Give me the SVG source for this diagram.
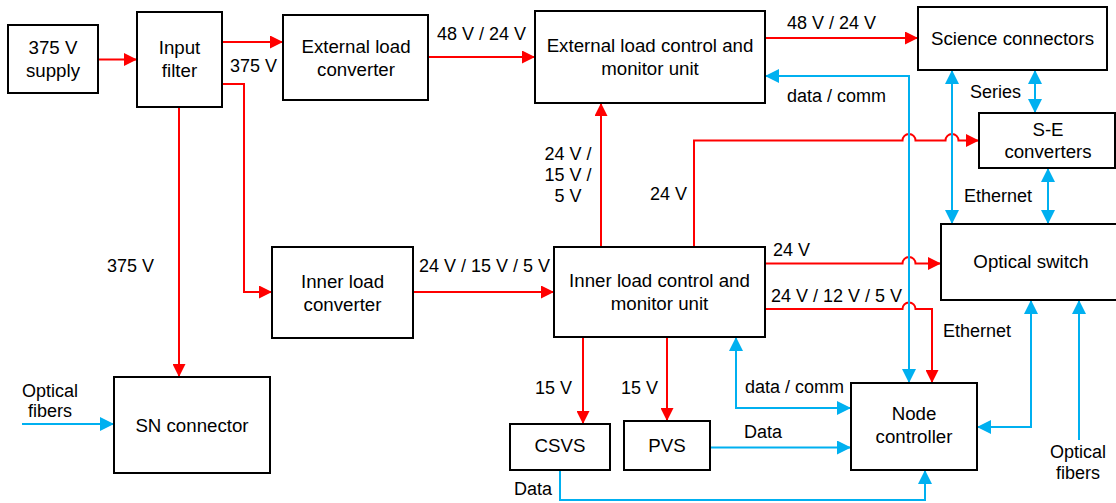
<svg xmlns="http://www.w3.org/2000/svg" width="1116" height="503" viewBox="0 0 1116 503">
<style>
.box{fill:#fff;stroke:#000;stroke-width:2}
.t{font-family:"Liberation Sans",Arial,sans-serif;font-size:18.7px;fill:#000;text-anchor:middle}
.l{font-family:"Liberation Sans",Arial,sans-serif;font-size:18px;fill:#000}
.r{fill:none;stroke:#FF0000;stroke-width:2}
.b{fill:none;stroke:#00B0F0;stroke-width:2}
</style>
<defs>
<marker id="ar" markerUnits="userSpaceOnUse" markerWidth="13" markerHeight="13" refX="13" refY="6.5" orient="auto-start-reverse"><path d="M0,0 L13,6.5 L0,13 z" fill="#FF0000"/></marker>
<marker id="ab" markerUnits="userSpaceOnUse" markerWidth="14" markerHeight="14" refX="14" refY="7" orient="auto-start-reverse"><path d="M0,0 L14,7 L0,14 z" fill="#00B0F0"/></marker>
</defs>
<rect width="1116" height="503" fill="#fff"/>
<g id="connectors">
<path class="r" d="M98,59.5 H137" marker-end="url(#ar)"/>
<path class="r" d="M222,42 H283" marker-end="url(#ar)"/>
<path class="r" d="M428,57 H535" marker-end="url(#ar)"/>
<path class="r" d="M765,38 H918" marker-end="url(#ar)"/>
<path class="r" d="M222,84 H244 V292 H272" marker-end="url(#ar)"/>
<path class="r" d="M179,107 V377" marker-end="url(#ar)"/>
<path class="r" d="M413,292 H554" marker-end="url(#ar)"/>
<path class="r" d="M601,247 V103" marker-end="url(#ar)"/>
<path class="r" d="M694,247 V140.5 H902.5 A6.5,6.5 0 0 1 915.5,140.5 H945.5 A6.5,6.5 0 0 1 958.5,140.5 H979" marker-end="url(#ar)"/>
<path class="r" d="M765,263.5 H902.5 A6.5,6.5 0 0 1 915.5,263.5 H941" marker-end="url(#ar)"/>
<path class="r" d="M765,309 H902.5 A6.5,6.5 0 0 1 915.5,309 H932 V383" marker-end="url(#ar)"/>
<path class="r" d="M583,337 V424" marker-end="url(#ar)"/>
<path class="r" d="M667,337 V421" marker-end="url(#ar)"/>
<path class="b" d="M22,424 H114" marker-end="url(#ab)"/>
<path class="b" d="M765,76 H909 V383" marker-start="url(#ab)" marker-end="url(#ab)"/>
<path class="b" d="M952,70 V224" marker-start="url(#ab)" marker-end="url(#ab)"/>
<path class="b" d="M1035,70 V113" marker-start="url(#ab)" marker-end="url(#ab)"/>
<path class="b" d="M1048,168 V224" marker-start="url(#ab)" marker-end="url(#ab)"/>
<path class="b" d="M736,337 V408 H851" marker-start="url(#ab)" marker-end="url(#ab)"/>
<path class="b" d="M710,447.5 H851" marker-end="url(#ab)"/>
<path class="b" d="M560,470 V500 H925 V470" marker-end="url(#ab)"/>
<path class="b" d="M977,427 H1031 V300" marker-start="url(#ab)" marker-end="url(#ab)"/>
<path class="b" d="M1079,440 V300" marker-end="url(#ab)"/>
</g>
<g id="labels">
<text class="l" x="230" y="72">375 V</text>
<text class="l" x="437" y="40">48 V / 24 V</text>
<text class="l" x="787" y="28.5">48 V / 24 V</text>
<text class="l" x="787" y="102">data / comm</text>
<text class="l" x="970" y="98">Series</text>
<text class="l" x="568" y="160" text-anchor="middle">24 V /</text>
<text class="l" x="568" y="181" text-anchor="middle">15 V /</text>
<text class="l" x="568" y="202" text-anchor="middle">5 V</text>
<text class="l" x="650" y="199.5">24 V</text>
<text class="l" x="964" y="202">Ethernet</text>
<text class="l" x="419" y="271.5">24 V / 15 V / 5 V</text>
<text class="l" x="107" y="271.5">375 V</text>
<text class="l" x="773" y="256">24 V</text>
<text class="l" x="771" y="301.5">24 V / 12 V / 5 V</text>
<text class="l" x="943" y="336.5">Ethernet</text>
<text class="l" x="535" y="394">15 V</text>
<text class="l" x="621" y="394">15 V</text>
<text class="l" x="745" y="393">data / comm</text>
<text class="l" x="744" y="438">Data</text>
<text class="l" x="514" y="495">Data</text>
<text class="l" x="50" y="397" text-anchor="middle">Optical</text>
<text class="l" x="50" y="417" text-anchor="middle">fibers</text>
<text class="l" x="1078" y="458" text-anchor="middle">Optical</text>
<text class="l" x="1078" y="479" text-anchor="middle">fibers</text>
</g>
<g id="supply"><rect class="box" x="8" y="25" width="90" height="68"/><text class="t" x="53" y="54">375 V</text><text class="t" x="53" y="77">supply</text></g>
<g id="input-filter"><rect class="box" x="137" y="12" width="85" height="95"/><text class="t" x="179.5" y="54">Input</text><text class="t" x="179.5" y="77">filter</text></g>
<g id="ext-load-converter"><rect class="box" x="283" y="15" width="145" height="85"/><text class="t" x="356" y="52.5">External load</text><text class="t" x="356" y="75.5">converter</text></g>
<g id="ext-control"><rect class="box" x="535" y="11" width="230" height="92"/><text class="t" x="650" y="52">External load control and</text><text class="t" x="650" y="75">monitor unit</text></g>
<g id="science-connectors"><rect class="box" x="918" y="7" width="189" height="63"/><text class="t" x="1012.5" y="45">Science connectors</text></g>
<g id="se-converters"><rect class="box" x="979" y="113" width="136" height="55"/><text class="t" x="1048" y="135.5">S-E</text><text class="t" x="1048" y="158">converters</text></g>
<g id="optical-switch"><rect class="box" x="941" y="224" width="190" height="76"/><text class="t" x="1031" y="268">Optical switch</text></g>
<g id="inner-load-converter"><rect class="box" x="272" y="247" width="141" height="91"/><text class="t" x="342.5" y="287.5">Inner load</text><text class="t" x="342.5" y="310.5">converter</text></g>
<g id="inner-control"><rect class="box" x="554" y="247" width="211" height="90"/><text class="t" x="659.5" y="287">Inner load control and</text><text class="t" x="659.5" y="310">monitor unit</text></g>
<g id="sn-connector"><rect class="box" x="114" y="377" width="156" height="96"/><text class="t" x="192" y="431.5">SN connector</text></g>
<g id="csvs"><rect class="box" x="510" y="424" width="100" height="46"/><text class="t" x="560" y="452">CSVS</text></g>
<g id="pvs"><rect class="box" x="624" y="421" width="86" height="49"/><text class="t" x="667" y="452">PVS</text></g>
<g id="node-controller"><rect class="box" x="851" y="383" width="126" height="87"/><text class="t" x="914" y="420">Node</text><text class="t" x="914" y="443">controller</text></g>
</svg>
